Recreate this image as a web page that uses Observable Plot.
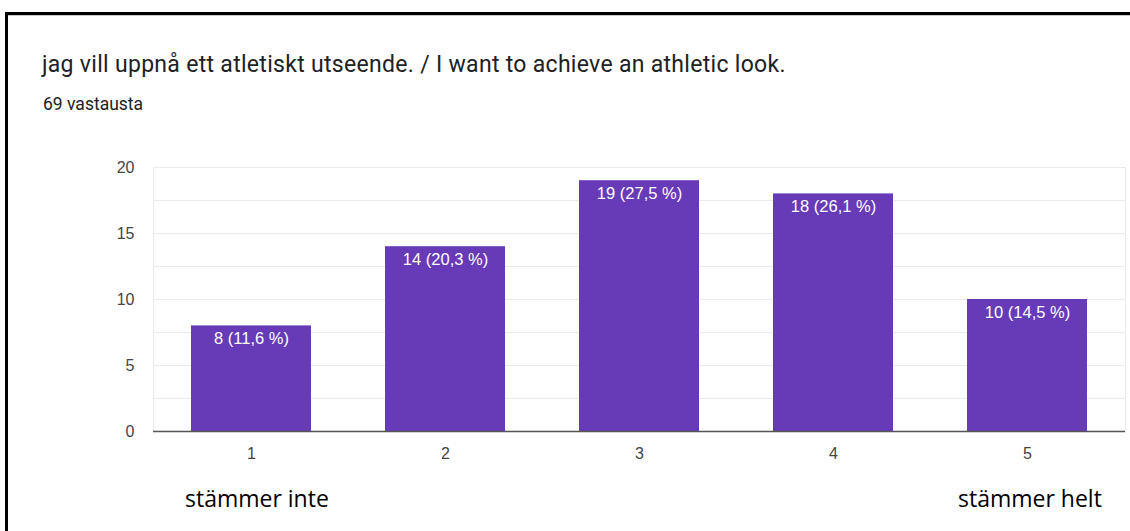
<!DOCTYPE html>
<html>
<head>
<meta charset="utf-8">
<script src="https://cdn.jsdelivr.net/npm/d3@7"></script>
<script src="https://cdn.jsdelivr.net/npm/@observablehq/plot@0.6"></script>
<style>
  html, body { margin: 0; padding: 0; background: #fff; }
  #wrap { position: relative; width: 1130px; height: 531px; overflow: hidden; background: #fff; }
  #frame { position: absolute; left: 5px; top: 12px; width: 1200px; height: 600px;
           border-top: 3px solid #000; border-left: 3px solid #000; box-shadow: inset 0 1px 0 #c8c8c8; }
  #title { position: absolute; left: 42px; top: 51px; font-family: Roboto, "Open Sans", sans-serif;
           font-size: 23px; letter-spacing: 0.3px; color: #202124; white-space: nowrap; line-height: normal; }
  #sub { position: absolute; left: 43px; top: 94px; font-family: Roboto, sans-serif;
         font-size: 17.5px; color: #202124; white-space: nowrap; line-height: normal; }
  .end { position: absolute; top: 482px; font-family: "Open Sans", "Noto Sans", sans-serif;
         font-size: 23px; color: #000; white-space: nowrap; line-height: normal; }
  #chart { position: absolute; left: 0; top: 140px; }
</style>
</head>
<body>
<div id="wrap">
  <div id="frame"></div>
  <div id="title"></div>
  <div id="sub"></div>
  <div class="end" id="endL" style="left:185px"></div>
  <div class="end" id="endR" style="left:958px"></div>
  <div id="chart"></div>
</div>
<script>
const titleText = "jag vill uppnå ett atletiskt utseende. / I want to achieve an athletic look.";
const subtitleText = "69 vastausta";
const categories = ["1", "2", "3", "4", "5"];
const counts = [8, 14, 19, 18, 10];
const labels = ["8 (11,6 %)", "14 (20,3 %)", "19 (27,5 %)", "18 (26,1 %)", "10 (14,5 %)"];
const yTicks = [0, 5, 10, 15, 20];
const gridTicks = [0, 2.5, 5, 7.5, 10, 12.5, 15, 17.5, 20];
const endLabels = ["stämmer inte", "stämmer helt"];

document.getElementById("title").textContent = titleText;
document.getElementById("sub").textContent = subtitleText;
document.getElementById("endL").textContent = endLabels[0];
document.getElementById("endR").textContent = endLabels[1];

const data = categories.map((c, i) => ({cat: c, n: counts[i], label: labels[i]}));

const chart = Plot.plot({
  width: 1130,
  height: 340,
  marginLeft: 153,
  marginRight: 5,
  marginTop: 27,
  marginBottom: 49,
  style: {fontFamily: "'Liberation Sans', Arial, sans-serif", fontSize: "16px", color: "#444", background: "transparent"},
  x: {domain: categories, paddingInner: 0.38, paddingOuter: 0.19, label: null},
  y: {domain: [0, 20], label: null},
  marks: [
    Plot.ruleY(gridTicks, {stroke: "#ebebeb", strokeWidth: 1}),
    Plot.frame({stroke: "#ebebeb"}),
    Plot.barY(data, {x: "cat", y: "n", fill: "#673ab7"}),
    Plot.ruleY([0], {stroke: "#555", strokeWidth: 1.5}),
    Plot.text(data, {x: "cat", y: "n", text: "label", dy: 13, fill: "#fff", fontSize: 16.5}),
    Plot.axisY({ticks: yTicks, tickSize: 0, tickPadding: 19, fontSize: 16, fill: "#444"}),
    Plot.axisX({tickSize: 0, tickPadding: 16, fontSize: 16, fill: "#444"})
  ]
});
document.getElementById("chart").appendChild(chart);
</script>
</body>
</html>
